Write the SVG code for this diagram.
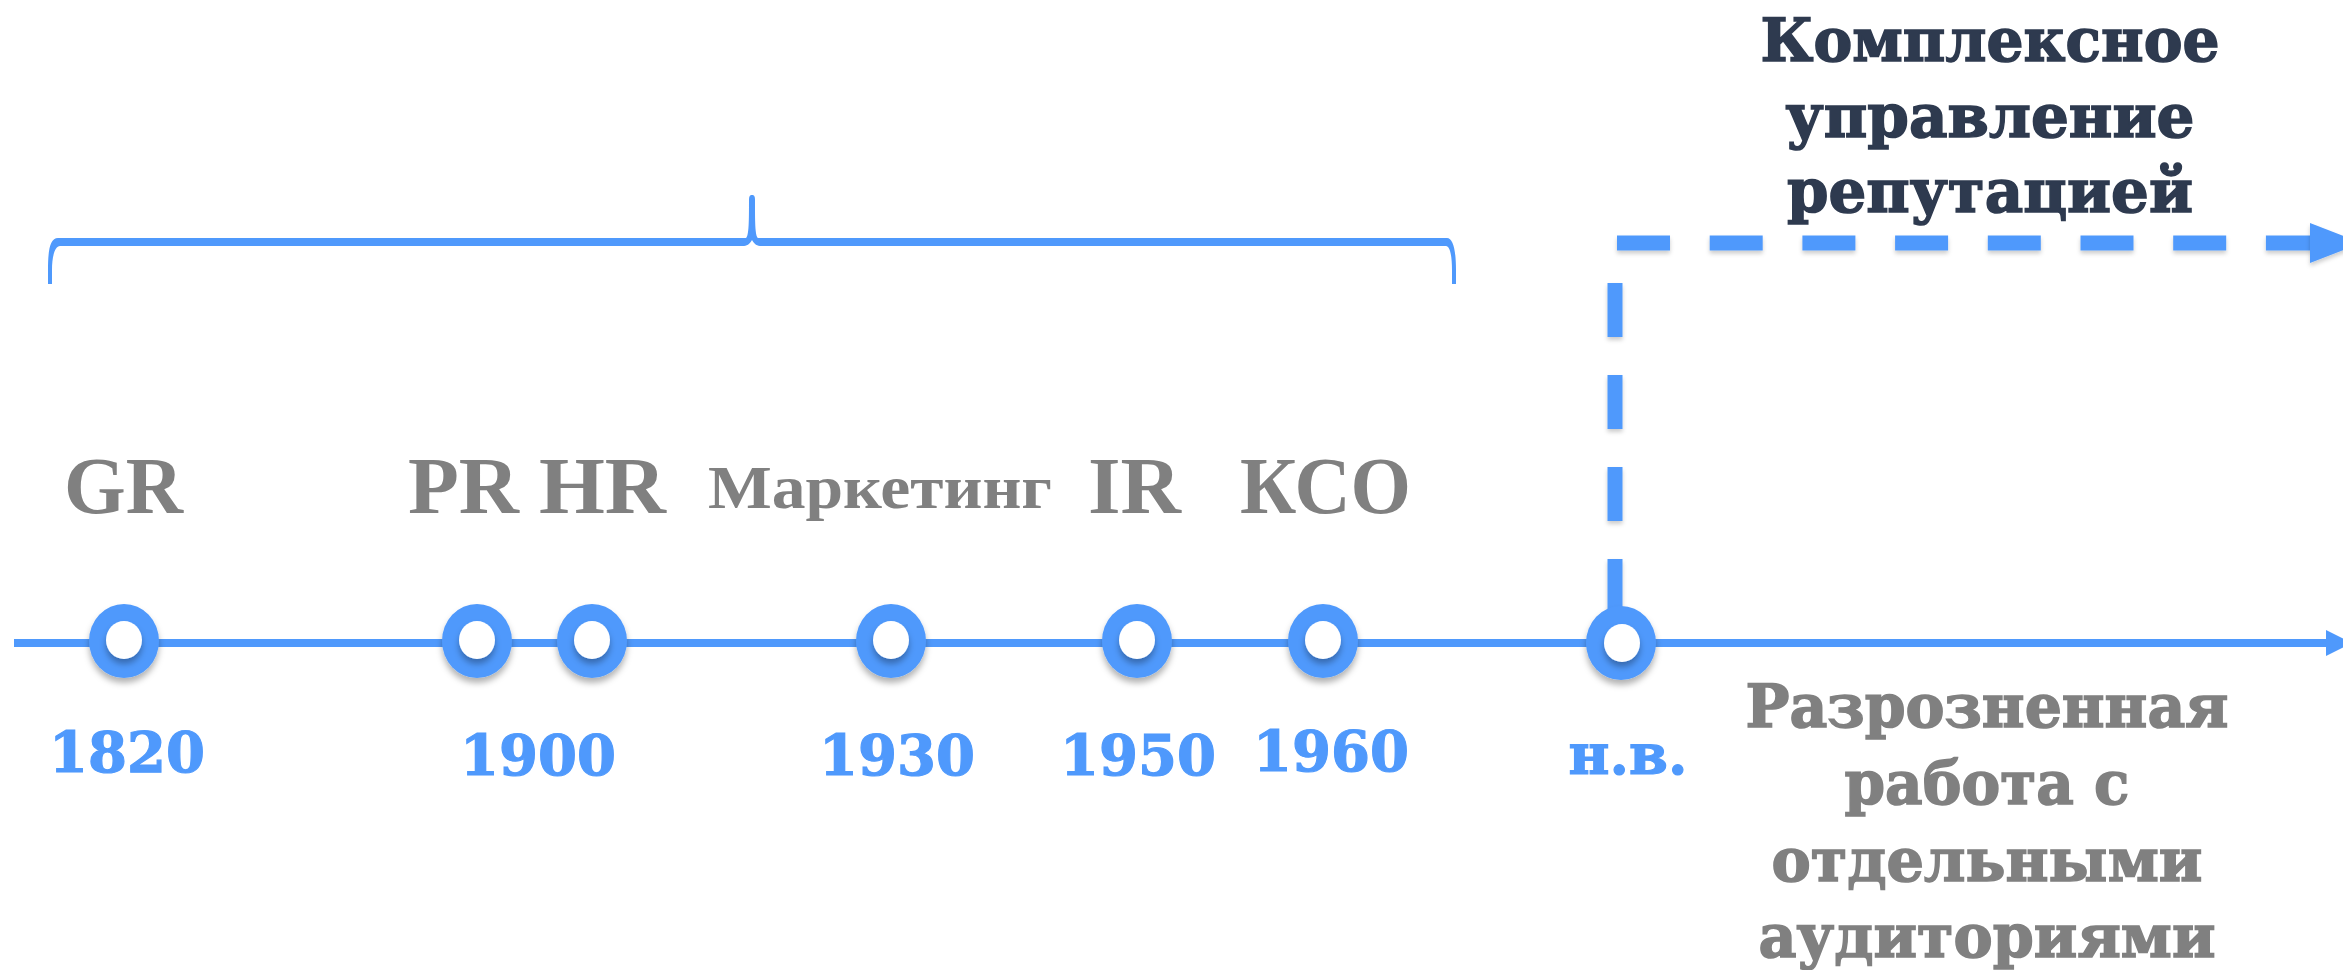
<svg xmlns="http://www.w3.org/2000/svg" width="2343" height="970" viewBox="0 0 2343 970">
<defs>
<filter id="sh" x="-50%" y="-50%" width="200%" height="200%">
<feDropShadow dx="0" dy="5" stdDeviation="3" flood-color="#000" flood-opacity="0.3"/>
</filter>
<filter id="sh2" filterUnits="userSpaceOnUse" x="0" y="0" width="2343" height="970">
<feDropShadow dx="0" dy="3" stdDeviation="2" flood-color="#000" flood-opacity="0.2"/>
</filter>
</defs>
<style>
.lbl{font-family:"Liberation Serif","Times New Roman",serif;font-weight:bold;font-size:80px;fill:#808080}
.yr{font-family:"DejaVu Serif",Georgia,serif;font-weight:bold;font-size:56px;fill:#4f99fc;stroke:#4f99fc;stroke-width:1.2;text-anchor:middle}
.top{font-family:"DejaVu Serif",Georgia,serif;font-weight:bold;font-size:59px;fill:#2e3a4f;stroke:#2e3a4f;stroke-width:1.5;text-anchor:middle}
.bot{font-family:"DejaVu Serif",Georgia,serif;font-weight:bold;font-size:59px;fill:#808080;stroke:#808080;stroke-width:1.5;text-anchor:middle}
.ring{fill:#4f99fc;filter:url(#sh)}
.hole{fill:#fff;filter:url(#sh)}
.dash{fill:none;stroke:#4f99fc;stroke-width:15;filter:url(#sh2)}
</style>
<g id="connectors">
<path id="brace" fill="#4f99fc" d="M48,284 L48,270 C48,250 50,238 58,238 L746,238 C749,236 749,220 749,200 C749,196 750,195 752,195 C754,195 755,196 755,200 C755,220 755,236 758,238 L1447,238 C1453,238 1456,250 1456,270 L1456,284 L1452,284 L1452,270 C1452,256 1450,246 1446,246 L760,246 C756,246 753,242 752,240 C751,242 748,246 744,246 L60,246 C55,246 52,256 52,270 L52,284 Z"/>
<line x1="14" y1="643" x2="2330" y2="643" stroke="#4f99fc" stroke-width="8"/>
<polygon points="2326,630 2352,643 2326,656" fill="#4f99fc"/>
<path class="dash" d="M1615,283 V616" stroke-dasharray="54 38"/>
<path class="dash" d="M1617,243 H2312" stroke-dasharray="53 39.7"/>
<polygon points="2310,223 2362,243 2310,263" fill="#4f99fc" filter="url(#sh2)"/>
</g>
<g id="n1820"><ellipse class="ring" cx="124" cy="641" rx="35" ry="37"/><ellipse class="hole" cx="124" cy="640" rx="18" ry="19"/></g>
<g id="n1900a"><ellipse class="ring" cx="477" cy="641" rx="35" ry="37"/><ellipse class="hole" cx="477" cy="640" rx="18" ry="19"/></g>
<g id="n1900b"><ellipse class="ring" cx="592" cy="641" rx="35" ry="37"/><ellipse class="hole" cx="592" cy="640" rx="18" ry="19"/></g>
<g id="n1930"><ellipse class="ring" cx="891" cy="641" rx="35" ry="37"/><ellipse class="hole" cx="891" cy="640" rx="18" ry="19"/></g>
<g id="n1950"><ellipse class="ring" cx="1137" cy="641" rx="35" ry="37"/><ellipse class="hole" cx="1137" cy="640" rx="18" ry="19"/></g>
<g id="n1960"><ellipse class="ring" cx="1323" cy="641" rx="35" ry="37"/><ellipse class="hole" cx="1323" cy="640" rx="18" ry="19"/></g>
<g id="nnow"><ellipse class="ring" cx="1621" cy="643" rx="35" ry="37"/><ellipse class="hole" cx="1622" cy="643" rx="18" ry="19"/></g>
<g id="labels">
<text class="lbl" x="64" y="513" textLength="119" lengthAdjust="spacingAndGlyphs">GR</text>
<text class="lbl" x="408" y="513" textLength="111" lengthAdjust="spacingAndGlyphs">PR</text>
<text class="lbl" x="539" y="513" textLength="127" lengthAdjust="spacingAndGlyphs">HR</text>
<text class="lbl" x="708" y="508" style="font-size:62px" textLength="344" lengthAdjust="spacingAndGlyphs">Маркетинг</text>
<text class="lbl" x="1088" y="513" textLength="93" lengthAdjust="spacingAndGlyphs">IR</text>
<text class="lbl" x="1240" y="513" textLength="171" lengthAdjust="spacingAndGlyphs">КСО</text>
</g>
<g id="years">
<text class="yr" x="127" y="772">1820</text>
<text class="yr" x="538" y="775">1900</text>
<text class="yr" x="897" y="775">1930</text>
<text class="yr" x="1138" y="775">1950</text>
<text class="yr" x="1331" y="771">1960</text>
<text class="yr" x="1628" y="774">н.в.</text>
</g>
<g id="top-text">
<text class="top" x="1990" y="61" textLength="459" lengthAdjust="spacingAndGlyphs">Комплексное</text>
<text class="top" x="1990" y="137" textLength="409" lengthAdjust="spacingAndGlyphs">управление</text>
<text class="top" x="1990" y="212" textLength="406" lengthAdjust="spacingAndGlyphs">репутацией</text>
</g>
<g id="bottom-text">
<text class="bot" x="1987" y="727" textLength="483" lengthAdjust="spacingAndGlyphs">Разрозненная</text>
<text class="bot" x="1987" y="804" textLength="285" lengthAdjust="spacingAndGlyphs">работа с</text>
<text class="bot" x="1987" y="881" textLength="431" lengthAdjust="spacingAndGlyphs">отдельными</text>
<text class="bot" x="1987" y="957" textLength="457" lengthAdjust="spacingAndGlyphs">аудиториями</text>
</g>
</svg>
